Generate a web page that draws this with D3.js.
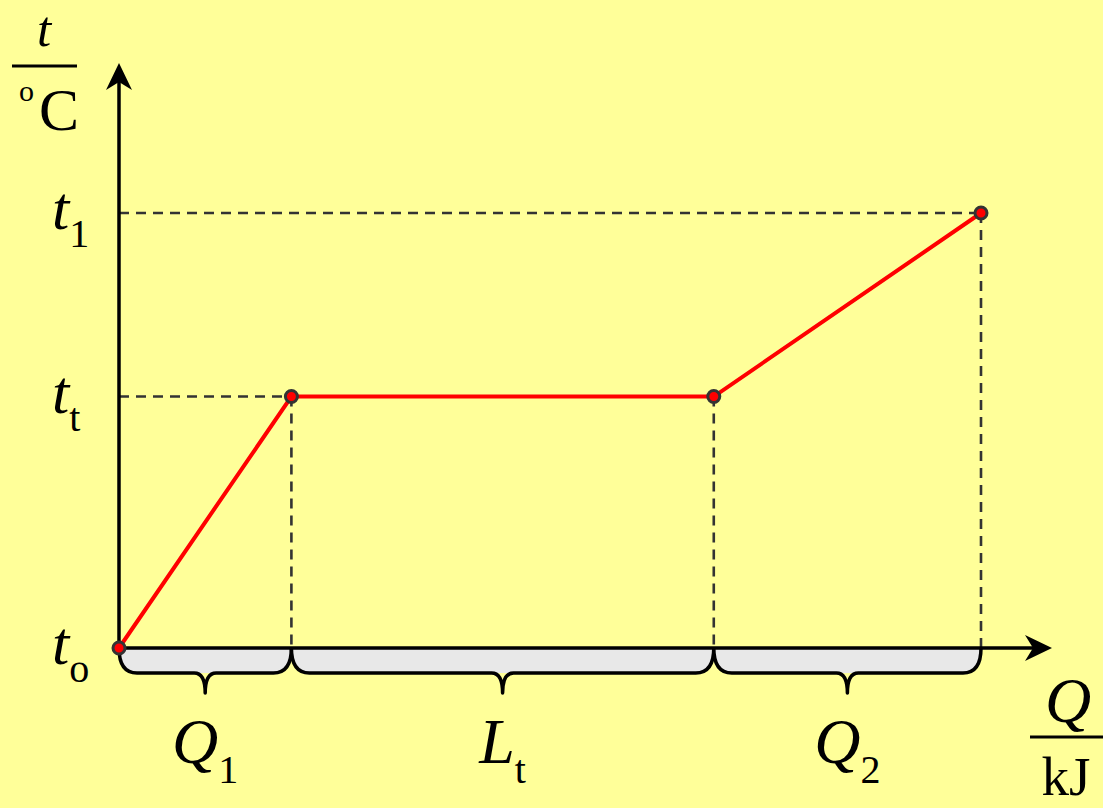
<!DOCTYPE html>
<html><head><meta charset="utf-8">
<script src="https://cdn.jsdelivr.net/npm/d3@7"></script>
<style>
html,body{margin:0;padding:0;background:#ffff99;}
svg{display:block;}
text{font-family:"Liberation Serif","Times New Roman",serif;fill:#000;}
</style></head><body>
<svg id="chart" width="1103" height="808"></svg>
<script>
// Heat (Q, arbitrary units) vs temperature (t, arbitrary units)
const qValues = [0, 2, 6.9, 10];
const tValues = [0, 1, 1, 1.73];
const tTickValues = [0, 1, 1.73];
const tTickMain = ["t", "t", "t"];
const tTickSub = ["o", "t", "1"];
const segStart = [0, 2, 6.9];
const segEnd = [2, 6.9, 10];
const segMain = ["Q", "L", "Q"];
const segSub = ["1", "t", "2"];

const svg = d3.select("#chart");
const W = 1103, H = 808;
svg.append("rect").attr("width", W).attr("height", H).attr("fill", "#ffff99");

const x = d3.scaleLinear().domain([0, 10]).range([119, 981]);
const y = d3.scaleLinear().domain([0, 1.73]).range([648, 213]);
const x0 = x(0), y0 = y(0);

// braces
const bTop = y0, bBot = y0 + 25, bTip = y0 + 45, r = 18, rt = 11;
segStart.forEach((s, i) => {
  const a = x(s), b = x(segEnd[i]), m = (a + b) / 2;
  svg.append("path")
    .attr("d", `M${a},${bTop} Q${a},${bBot} ${a + r},${bBot} L${b - r},${bBot} Q${b},${bBot} ${b},${bTop} Z`)
    .attr("fill", "#e8e8e8");
  svg.append("path")
    .attr("d", `M${a},${bTop} Q${a},${bBot} ${a + r},${bBot} L${m - rt},${bBot} Q${m},${bBot} ${m},${bTip} Q${m},${bBot} ${m + rt},${bBot} L${b - r},${bBot} Q${b},${bBot} ${b},${bTop}`)
    .attr("fill", "none").attr("stroke", "#000").attr("stroke-width", 3.5).attr("stroke-linejoin", "round");
});

// dashed guides
const dash = svg.append("g").attr("stroke", "#333").attr("stroke-width", 2.6).attr("stroke-dasharray", "10,7").attr("fill", "none");
qValues.forEach((q, i) => {
  if (i === 0) return;
  dash.append("line").attr("x1", x(q)).attr("x2", x(q)).attr("y1", y(tValues[i])).attr("y2", y0);
});
[1, 3].forEach(i => {
  dash.append("line").attr("x1", x0).attr("x2", x(qValues[i])).attr("y1", y(tValues[i])).attr("y2", y(tValues[i]));
});

// axes
const ax = svg.append("g").attr("stroke", "#000").attr("stroke-width", 3.5);
ax.append("line").attr("x1", x0).attr("x2", x0).attr("y1", y0).attr("y2", 70);
ax.append("line").attr("x1", x0).attr("x2", 1045).attr("y1", y0).attr("y2", y0);
svg.append("path").attr("d", `M${x0},63 L${x0 + 13},90 L${x0},82 L${x0 - 13},90 Z`).attr("fill", "#000");
svg.append("path").attr("d", `M1052,${y0} L1025,${y0 - 13} L1033,${y0} L1025,${y0 + 13} Z`).attr("fill", "#000");

// red line
const line = d3.line().x((d, i) => x(qValues[i])).y((d, i) => y(tValues[i]));
svg.append("path").datum(qValues).attr("d", line).attr("fill", "none").attr("stroke", "#ff0000").attr("stroke-width", 4);
svg.selectAll("circle.pt").data(qValues).join("circle").attr("class", "pt")
  .attr("cx", d => x(d)).attr("cy", (d, i) => y(tValues[i])).attr("r", 6)
  .attr("fill", "#ff0000").attr("stroke", "#333").attr("stroke-width", 3);

// y labels
tTickValues.forEach((v, i) => {
  const t = svg.append("text").attr("x", 52).attr("y", y(v) + 16).attr("font-size", 62);
  t.append("tspan").attr("font-style", "italic").text(tTickMain[i]);
  t.append("tspan").attr("font-size", 40).attr("dy", 18).attr("dx", 0).text(tTickSub[i]);
});

// brace labels
segStart.forEach((s, i) => {
  const m = (x(s) + x(segEnd[i])) / 2;
  const t = svg.append("text").attr("x", m).attr("y", 763).attr("font-size", 64).attr("text-anchor", "middle");
  t.append("tspan").attr("font-style", "italic").text(segMain[i]);
  t.append("tspan").attr("font-size", 40).attr("dy", 20).text(segSub[i]);
});

// axis titles
svg.append("text").attr("x", 44).attr("y", 46).attr("font-size", 51).attr("font-style", "italic").attr("text-anchor", "middle").text("t");
svg.append("line").attr("x1", 12).attr("x2", 77).attr("y1", 66).attr("y2", 66).attr("stroke", "#000").attr("stroke-width", 3);
svg.append("text").attr("x", 19).attr("y", 101).attr("font-size", 30).text("o");
svg.append("text").attr("x", 39).attr("y", 130).attr("font-size", 60).text("C");

svg.append("text").attr("x", 1068).attr("y", 722).attr("font-size", 64).attr("font-style", "italic").attr("text-anchor", "middle").text("Q");
svg.append("line").attr("x1", 1030).attr("x2", 1103).attr("y1", 737).attr("y2", 737).attr("stroke", "#000").attr("stroke-width", 3);
svg.append("text").attr("x", 1066).attr("y", 795).attr("font-size", 55).attr("text-anchor", "middle").text("kJ");
</script>
</body></html>
